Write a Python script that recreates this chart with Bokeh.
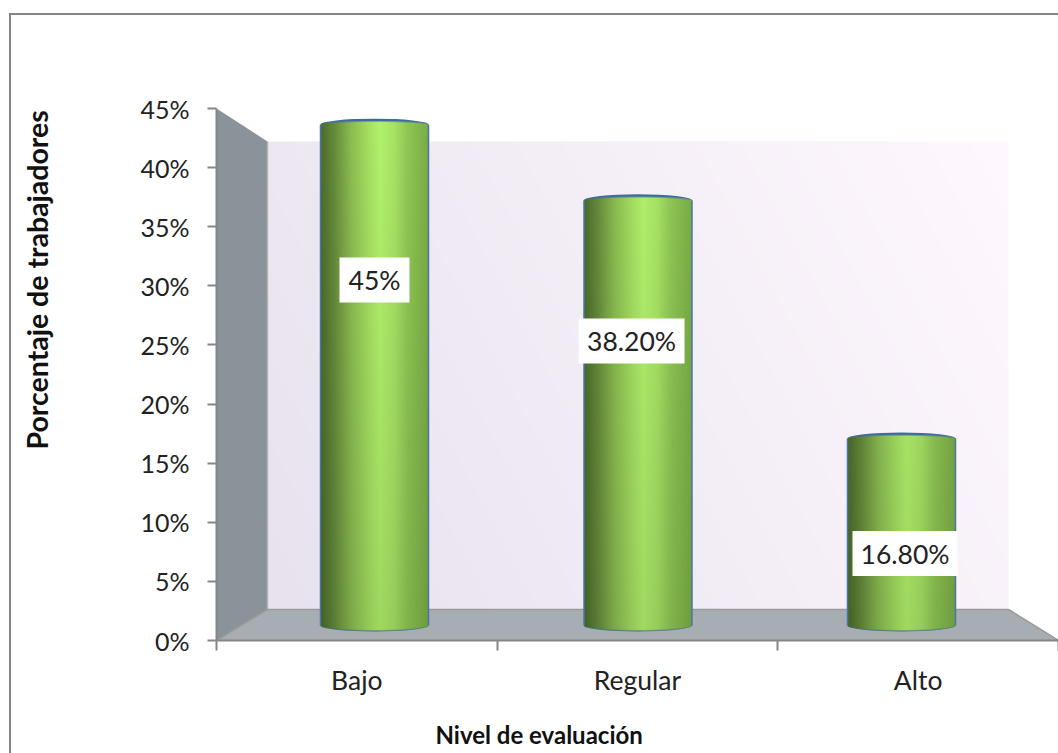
import numpy as np
from bokeh.core.properties import value
from bokeh.embed import file_html
from bokeh.models import FixedTicker, InlineStyleSheet, LinearAxis, PrintfTickFormatter, Range1d, Title
from bokeh.plotting import figure
from bokeh.resources import INLINE

categories = ["Bajo", "Regular", "Alto"]
percentages = [45.0, 38.2, 16.8]
value_labels = ["45%", "38.20%", "16.80%"]
y_ticks = [0, 5, 10, 15, 20, 25, 30, 35, 40, 45]

W, H = 1058, 753
AX_L, AX_R, AX_T, AX_B = 216, 1058, 108, 640
FONT = "Lato"
AXIS_GREY = "#868686"


def dx(px):
    """Screen x to data x."""
    return (px - AX_L) / (AX_R - AX_L) * 3.0


def dy(py):
    """Screen y to data y."""
    return (AX_B - py) / (AX_B - AX_T) * 45.0


def hexrgb(c):
    return np.array([int(c[i:i + 2], 16) for i in (1, 3, 5)], dtype=float)


def rgba(r, g, b, a):
    out = np.zeros(r.shape, dtype=np.uint32)
    view = out.view(np.uint8).reshape(r.shape + (4,))
    view[..., 0] = np.clip(r, 0, 255)
    view[..., 1] = np.clip(g, 0, 255)
    view[..., 2] = np.clip(b, 0, 255)
    view[..., 3] = np.clip(a, 0, 255)
    return out


# Chart-area border: only its left and top edges fall on the page
chart_border = InlineStyleSheet(css=f"""
:host {{ position: relative; }}
:host::after {{
  content: "";
  display: block;
  position: absolute;
  z-index: 50;
  left: 9px; top: 13px; width: {W - 9}px; height: {H - 13}px;
  box-sizing: border-box;
  border-left: 2.5px solid {AXIS_GREY};
  border-top: 2.5px solid {AXIS_GREY};
  pointer-events: none;
}}
""")

p = figure(
    width=W, height=H, output_backend="svg", toolbar_location=None,
    x_range=Range1d(0, 3), y_range=Range1d(0, 45),
    x_axis_type=None, y_axis_type=None,
    min_border_left=AX_L, min_border_right=W - AX_R,
    min_border_top=AX_T, min_border_bottom=H - AX_B,
    outline_line_color=None, background_fill_color="white", border_fill_color="white",
    stylesheets=[chart_border],
)
p.grid.visible = False

# Back wall with a diagonal lavender gradient
WALL_L, WALL_R, WALL_T, WALL_B = 267, 1008, 141, 609
wh, ww = WALL_B - WALL_T, WALL_R - WALL_L
yy, xx = np.mgrid[0:wh, 0:ww]
t = (xx / ww * 0.75 + yy / wh * 0.25)[..., None]
wall_rgb = hexrgb("#e7e2ee") * (1 - t) + hexrgb("#fff8fe") * t
p.image_rgba(
    image=[rgba(wall_rgb[..., 0], wall_rgb[..., 1], wall_rgb[..., 2], np.full((wh, ww), 255))],
    x=dx(WALL_L), y=dy(WALL_B), dw=dx(WALL_R) - dx(WALL_L), dh=dy(WALL_T) - dy(WALL_B),
)

# Side wall and floor of the 3-D box
p.patch(
    [dx(AX_L), dx(WALL_L), dx(WALL_L), dx(AX_L)],
    [dy(AX_T), dy(WALL_T), dy(WALL_B), dy(AX_B)],
    fill_color="#8a929a", line_color=None,
)
p.patch(
    [dx(AX_L), dx(WALL_L), dx(WALL_R), dx(AX_R)],
    [dy(AX_B), dy(WALL_B), dy(WALL_B), dy(AX_B)],
    fill_color="#a6aeb4", line_color=None,
)
p.line([dx(WALL_L), dx(WALL_L)], [dy(WALL_T), dy(WALL_B)], line_color="#b4b4b4", line_width=1.5)
p.line([dx(AX_L), dx(WALL_L), dx(WALL_R), dx(AX_R)],
       [dy(AX_B), dy(WALL_B), dy(WALL_B), dy(AX_B)], line_color="#9a9a9a", line_width=1.5)

# Cylinders: the value axis is foreshortened by the box's depth
BAR_SPACING_PX = 263.5
BAR_FIRST_PX = 374
BAR_W_PX = 108
BASE_PX = 625
PX_PER_PCT = 11.13
RIM_PX = 6
stops_pos = [0.0, 0.12, 0.28, 0.45, 0.55, 0.68, 0.80, 1.0]
stops_col = [hexrgb(c) for c in ("#4a6b2c", "#64893a", "#8abb50", "#a6e062",
                                 "#b2f26c", "#a8e465", "#90c855", "#7bad47")]
RIM = "#3f6c9e"

for i, v in enumerate(percentages):
    cx = BAR_FIRST_PX + i * BAR_SPACING_PX
    top_px = BASE_PX - v * PX_PER_PCT
    left_px = cx - BAR_W_PX / 2
    right_px = cx + BAR_W_PX / 2

    p.ellipse(x=dx(cx), y=dy(top_px), width=dx(right_px) - dx(left_px),
              height=dy(top_px - RIM_PX) - dy(top_px + RIM_PX), fill_color=RIM, line_color=None)
    p.ellipse(x=dx(cx), y=dy(BASE_PX), width=dx(right_px) - dx(left_px),
              height=dy(BASE_PX - RIM_PX) - dy(BASE_PX + RIM_PX), fill_color=RIM, line_color=None)

    img_top = int(np.floor(top_px - RIM_PX))
    img_bot = int(np.ceil(BASE_PX + RIM_PX))
    rows = img_bot - img_top
    cols = BAR_W_PX
    u = (np.arange(cols) + 0.5) / cols
    arc = np.sqrt(np.clip(1 - (2 * u - 1) ** 2, 0, 1))
    ramp = np.stack([np.interp(u, stops_pos, [c[k] for c in stops_col]) for k in range(3)], axis=1)
    r = np.zeros((rows, cols))
    g = np.zeros((rows, cols))
    b = np.zeros((rows, cols))
    a = np.zeros((rows, cols))
    for row in range(rows):
        # image rows count upwards from the bottom edge
        py = img_bot - row - 0.5
        shade = 1.0 - 0.10 * (py - 118) / (630 - 118)
        r[row] = ramp[:, 0] * shade
        g[row] = ramp[:, 1] * shade
        b[row] = ramp[:, 2] * shade
        upper = top_px - 3.2 * arc
        lower = BASE_PX + 5.0 * arc
        a[row] = 255 * np.clip(np.minimum(py - upper + 0.5, lower - py + 0.5), 0, 1)
    p.image_rgba(image=[rgba(r, g, b, a)], x=dx(left_px), y=dy(img_bot),
                 dw=dx(right_px) - dx(left_px), dh=dy(img_top) - dy(img_bot))
    p.segment(x0=[dx(left_px), dx(right_px)], y0=[dy(top_px)] * 2,
              x1=[dx(left_px), dx(right_px)], y1=[dy(BASE_PX)] * 2,
              line_color="#4a76a4", line_width=1.5)

# Value labels on white plates
label_centres = [(374, 279.5), (631, 340.5), (904.5, 553)]
label_half_w = [35, 53, 52.5]
for text, (lx, ly), hw in zip(value_labels, label_centres, label_half_w):
    p.quad(left=dx(lx - hw), right=dx(lx + hw), top=dy(ly - 22.5), bottom=dy(ly + 22.5),
           fill_color="white", line_color=None)
    p.text(x=[dx(lx)], y=[dy(ly)], text=[text], text_font=value(FONT), text_font_size="26.5px",
           text_align="center", text_baseline="middle", text_color="#222222")

# Axes: separators between categories are minor ticks, names sit on major ticks
y_axis = LinearAxis(
    ticker=FixedTicker(ticks=y_ticks),
    formatter=PrintfTickFormatter(format="%d%%"),
    axis_line_color=AXIS_GREY, axis_line_width=2,
    major_tick_line_color=AXIS_GREY, major_tick_line_width=2,
    major_tick_out=9, major_tick_in=0, minor_tick_out=0, minor_tick_in=0,
    major_label_text_font=FONT, major_label_text_font_size="25px",
    major_label_text_color="#222222", major_label_standoff=18,
)
p.add_layout(y_axis, "left")

centres = [0.5, 1.5, 2.5]
x_axis = LinearAxis(
    ticker=FixedTicker(ticks=centres, minor_ticks=[0, 1, 2, 3]),
    major_label_overrides={c: n for c, n in zip(centres, categories)},
    axis_line_color=AXIS_GREY, axis_line_width=2,
    major_tick_out=0, major_tick_in=0,
    minor_tick_line_color=AXIS_GREY, minor_tick_line_width=2,
    minor_tick_out=10, minor_tick_in=0,
    major_label_text_font=FONT, major_label_text_font_size="26.5px",
    major_label_text_color="#222222", major_label_standoff=13,
)
p.add_layout(x_axis, "below")

# Axis titles sit off-centre from the plot frame, so they are side-panel titles;
# a blank title between each axis and its title pushes the text outwards
p.add_layout(Title(text=" ", text_font_size="1px", standoff=11), "below")
p.add_layout(Title(
    text="Nivel de evaluación", text_font=FONT, text_font_style="bold", text_font_size="24px",
    text_color="#111111", align="left", offset=219, standoff=10,
), "below")
p.add_layout(Title(text=" ", text_font_size="1px", standoff=74), "left")
p.add_layout(Title(
    text="Porcentaje de trabajadores", text_font=FONT, text_font_style="bold", text_font_size="28.5px",
    text_color="#111111", align="left", offset=191, standoff=10, vertical_align="top",
), "left")

open("out.html", "w").write(file_html(p, INLINE))
